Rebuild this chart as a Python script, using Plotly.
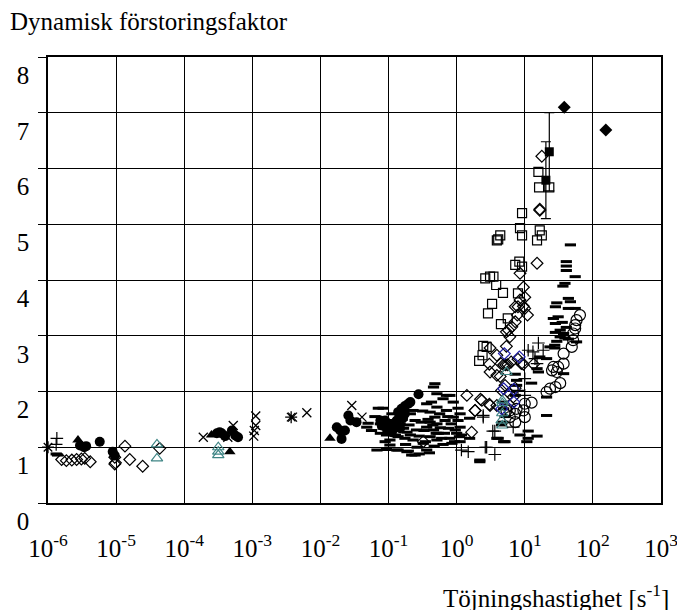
import numpy as np
import plotly.graph_objects as go

# ---- data: log10(strain rate) and dynamic increase factor ----
circ_f_lx = [-5.53, -5.47, -5.44, -5.24, -5.05, -5.02,
             -3.52, -3.48, -3.45, -3.40, -3.30, -3.25, -3.21,
             -1.76, -1.71, -1.64, -1.69, -1.59, -1.56, -1.47,
             -1.12, -1.05, -1.10, -1.00, -0.93, -0.88, -0.86, -0.81, -0.76, -0.71, -0.68, -0.56, -0.76, -0.95, -0.83,
             -1.02, -0.90, -0.79]
circ_f_y = [1.03, 1.00, 1.02, 1.10, 0.92, 0.85,
            1.25, 1.27, 1.25, 1.20, 1.30, 1.21, 1.18,
            1.36, 1.30, 1.30, 1.15, 1.57, 1.48, 1.45,
            1.48, 1.48, 1.39, 1.38, 1.42, 1.48, 1.63, 1.69, 1.74, 1.78, 1.81, 1.95, 1.60, 1.27, 1.34,
            1.30, 1.36, 1.52]

tri_f_lx = [-5.56, -3.60, -3.33, -1.86]
tri_f_y = [1.13, 1.22, 0.92, 1.16]

diam_lx = [-5.80, -5.73, -5.65, -5.58, -5.51, -5.46, -5.38, -4.87, -5.02, -5.01, -5.02, -4.80, -4.61, -4.36,
           -0.49, 0.15, 0.35, 0.27, 0.48, 0.22,
           1.22, 1.18, 0.98, 1.00, 0.93, 0.90, 0.86, 0.98, 1.00, 1.04, 0.93,
           0.89, 0.86, 0.81, 0.76, 0.78, 0.73, 0.73, 0.49, 0.59,
           0.65, 0.69, 0.72, 0.75, 0.80, 0.90, 0.95, 0.98, 1.13, 0.48, 0.49, 0.59, 0.64, 0.71, 0.66, 0.86,
           0.78, 0.83, 0.59, 0.78, 0.37, 0.27, 0.49, 1.25, 1.22]
diam_y = [0.78, 0.76, 0.77, 0.78, 0.79, 0.80, 0.74, 1.02, 0.82, 0.72, 0.70, 0.78, 0.66, 0.98,
          1.10, 1.93, 1.86, 1.66, 1.77, 1.27,
          5.25, 4.30, 3.87, 3.69, 3.64, 3.52, 3.52, 3.53, 3.49, 3.37, 4.12,
          3.37, 3.25, 3.16, 3.10, 2.98, 3.07, 2.81, 2.78, 2.65,
          2.50, 2.48, 2.48, 2.48, 2.53, 2.58, 2.50, 2.49, 2.49, 2.49, 2.35, 2.29, 2.27, 2.11, 2.02, 2.06,
          1.96, 1.90, 1.75, 1.75, 1.84, 1.66, 1.75, 6.22, 5.27]

diam_b_lx = [0.70, 0.92, 0.69, 0.84, 0.84, 0.66]
diam_b_y = [2.68, 2.62, 2.05, 2.04, 1.81, 1.69]

sq_lx = [0.96, 0.64, 0.61, 0.59, 0.93, 0.96, 1.22, 1.25, 1.18, 0.92, 0.86, 0.96,
         0.42, 0.49, 0.54, 0.58, 0.68, 0.90, 0.52, 0.46, 0.75, 0.65, 0.39, 0.44, 0.38, 0.33,
         1.20, 1.21, 1.36]
sq_y = [5.20, 4.80, 4.73, 4.71, 4.93, 4.80, 4.89, 4.80, 4.71, 4.33, 4.27, 4.24,
        4.03, 4.06, 4.06, 3.91, 3.77, 3.76, 3.57, 3.40, 3.31, 3.21, 2.82, 2.80, 2.65, 2.55,
        5.94, 5.66, 5.66]

circ_o_lx = [1.81, 1.76, 1.74, 1.74, 1.71, 1.71, 1.69, 1.57,
             1.57, 1.49, 1.42, 1.40, 1.47, 1.52, 1.45, 1.37, 1.32,
             1.10, 1.00, 0.98, 0.88, 0.86, 0.78, 1.00, 0.86, 0.78, 0.73]
circ_o_y = [3.37, 3.28, 3.19, 3.13, 3.04, 2.92, 2.80, 2.68,
            2.50, 2.44, 2.44, 2.38, 2.35, 2.15, 2.08, 2.05, 1.99,
            1.80, 1.78, 1.66, 1.69, 1.60, 1.66, 1.54, 1.45, 1.54, 1.66]

tri_t_lx = [-4.40, -4.40, -3.50, -3.50, -3.50, 0.73, 0.67, 0.67, 0.67, 0.66, 0.67]
tri_t_y = [1.05, 0.80, 1.00, 0.92, 0.86, 2.35, 1.84, 1.79, 1.61, 1.48, 1.39]

dash_lx = [-5.88, -5.86, -1.32, -1.30,
           -1.15, -1.08, -1.12, -1.03, -1.08, -0.98, -1.12, -1.03, -0.98, -0.90, -1.05, -0.98,
           -1.17, -1.03, -0.88, -0.71, -0.61,
           -0.83, -0.78, -0.73, -0.86, -0.76, -0.68, -0.64, -0.59, -0.61, -0.64, -0.68,
           -0.44, -0.37, -0.29, -0.39, -0.32, -0.39, -0.29, -0.44, -0.34, -0.27, -0.39, -0.29, -0.22, -0.46,
           -0.17, -0.15, -0.20, -0.10, -0.05, -0.12, -0.10, -0.07, -0.02, -0.05, 0.02, 0.05, 0.02, 0.05, 0.04,
           -0.32, -0.34, -0.29, -0.15, -0.44, -0.86, -0.73, -0.66, -0.49, 0.07, 0.05, 0.19, 0.19, 0.34,
           0.59, 0.69,
           -1.25, -1.20, -0.95, -0.92, -0.80, -0.75, -0.70, -0.55, -0.52, -0.50, -0.48, -0.42, -0.35,
           -0.30, -0.25, -0.24, -0.18, -0.13, -0.08, -0.03, 0.00, -0.58, -0.33, -0.20, -0.55, -0.40,
           1.67, 1.61, 1.61, 1.61, 1.74, 1.59, 1.56, 1.64, 1.67, 1.47, 1.45, 1.64, 1.74, 1.42, 1.49,
           1.45, 1.55, 1.61, 1.52, 1.45, 1.57, 1.52, 1.59, 1.64, 1.47, 1.76, 1.37, 1.44, 1.44,
           1.22, 1.32, 1.18, 1.20, 0.86, 0.88, 0.88, 1.10, 0.86, 1.57, 1.32, 1.32,
           0.68, 0.69, 0.71, 0.68, 0.66, 1.05, 0.93, 1.18, 1.05, 1.03, 0.61, 0.71, 0.34]
dash_y = [0.88, 0.86, 1.36, 1.43,
          1.70, 1.70, 1.42, 1.48, 1.34, 1.39, 1.25, 1.22, 1.13, 1.22, 1.10, 1.04,
          0.95, 0.96, 0.95, 0.93, 0.86,
          1.42, 1.34, 1.27, 1.19, 1.16, 1.22, 1.13, 1.31, 1.48, 1.66, 1.60,
          1.78, 1.81, 1.72, 1.63, 1.54, 1.45, 1.42, 1.36, 1.31, 1.25, 1.19, 1.13, 1.16, 1.10,
          1.48, 1.66, 1.87, 1.93, 1.81, 1.34, 1.16, 1.07, 1.31, 1.54, 1.70, 1.60, 1.48, 1.36, 1.19,
          2.14, 2.08, 1.96, 1.93, 0.95, 0.95, 0.92, 0.86, 1.07, 1.22, 1.10, 1.52, 1.16, 0.77,
          1.16, 1.10,
          1.30, 1.55, 1.60, 1.30, 1.50, 1.05, 1.40, 1.20, 1.45, 1.65, 1.30, 1.50, 1.40,
          1.25, 1.60, 1.35, 1.25, 1.55, 1.42, 1.10, 1.25, 1.00, 1.02, 1.05, 0.88, 0.90,
          4.63, 4.33, 4.25, 4.17, 4.06, 3.94, 3.89, 3.67, 3.61, 3.59, 3.52, 3.49, 3.49, 3.31, 3.34,
          3.22, 3.24, 3.15, 3.10, 3.06, 3.04, 2.98, 2.96, 2.94, 2.90, 2.89, 2.80, 2.83, 2.78,
          2.62, 2.59, 2.41, 2.35, 2.31, 2.20, 2.11, 2.15, 1.93, 2.32, 1.90, 1.57,
          1.81, 1.69, 1.55, 1.45, 1.40, 1.29, 1.22, 1.20, 1.16, 1.10, 1.16, 1.10, 0.74]

plus_lx = [-5.88, -5.87, 0.39, 0.42, 0.07, 0.17, 0.44, 0.56, 0.56,
           1.20, 1.05, 1.12, 1.27, 1.15, 1.18, 1.00, 0.90, 1.00, 0.39, 0.83, 0.53]
plus_y = [1.05, 1.16, 1.57, 1.00, 0.95, 0.92, 1.00, 0.87, 1.29,
          2.87, 2.74, 2.71, 2.74, 2.59, 2.50, 2.23, 2.02, 1.93, 1.54, 1.36, 1.29]

x_lx = [-3.72, -3.28, -2.95, -2.95, -2.97, -2.98, -2.41, -2.20, -1.54, -1.39, -3.36]
x_y = [1.18, 1.39, 1.56, 1.39, 1.30, 1.20, 1.54, 1.62, 1.75, 1.54, 1.18]

ast_lx = [-6.0, -2.43]
ast_y = [1.00, 1.54]

sqf_lx = [1.36, 1.31]
sqf_y = [6.30, 5.79]
sqf_err_up = [0.70, 0.69]
sqf_err_dn = [0.70, 0.69]

diam_f_lx = [1.58, 2.19]
diam_f_y = [7.10, 6.69]

tick_exp = [-6, -5, -4, -3, -2, -1, 0, 1, 2, 3]
y_ticks = [0, 1, 2, 3, 4, 5, 6, 7, 8]

FONT = "Liberation Serif"
FS = 25
PW, PH = 613, 446  # plot area size in px


def X(lx):
    return np.power(10.0, np.array(lx))


fig = go.Figure()


def add(lx, y, symbol, size, color="black", lw=1.2, fill=None, **kw):
    fig.add_trace(go.Scatter(
        x=X(lx), y=y, mode="markers",
        marker=dict(symbol=symbol, size=size, color=fill or color,
                    line=dict(color=color, width=lw)),
        showlegend=False, hoverinfo="skip", cliponaxis=False, **kw))


add(dash_lx, dash_y, "line-ew", 8, lw=3)
add(sq_lx, sq_y, "square-open", 9)
add(circ_o_lx, circ_o_y, "circle-open", 11)
add(diam_lx, diam_y, "diamond-open", 9)
add(diam_b_lx, diam_b_y, "diamond-open", 9, color="#2020a8")
add(tri_t_lx, tri_t_y, "triangle-up-open", 10, color="#3f8585")
add(plus_lx, plus_y, "cross-thin", 9, lw=1.2)
add(x_lx, x_y, "x-thin", 9, lw=1.3)
add(ast_lx, ast_y, "asterisk", 10, lw=1.3)
add(circ_f_lx, circ_f_y, "circle", 10, lw=0)
add(tri_f_lx, tri_f_y, "triangle-up", 10, lw=0)
add(diam_f_lx, diam_f_y, "diamond", 10, lw=0)
add(sqf_lx, sqf_y, "square", 9, lw=0,
    error_y=dict(type="data", symmetric=False, array=sqf_err_up, arrayminus=sqf_err_dn,
                 color="black", thickness=1.2, width=5))

fig.update_layout(
    width=677, height=602,
    margin=dict(l=40, r=24, t=49, b=107, autoexpand=False),
    paper_bgcolor="white", plot_bgcolor="white",
    font=dict(family=FONT, size=FS, color="black"),
    xaxis=dict(
        type="log", range=[-6, 3], automargin=False,
        tickvals=[10.0 ** e for e in tick_exp],
        ticktext=["10<sup>%d</sup>" % e for e in tick_exp],
        showgrid=True, gridcolor="black", gridwidth=1,
        showline=True, linecolor="black", linewidth=1.5, mirror=True,
        ticks="", ticklabelstandoff=22, zeroline=False,
    ),
    yaxis=dict(
        range=[0, 8], tickvals=y_ticks, automargin=False,
        showgrid=True, gridcolor="black", gridwidth=1,
        showline=True, linecolor="black", linewidth=1.5, mirror=True,
        ticks="outside", ticklen=8, tickcolor="black", tickwidth=1,
        ticklabelposition="outside bottom", ticklabelstandoff=12, zeroline=False,
    ),
    annotations=[
        dict(text="Dynamisk förstoringsfaktor", xref="paper", yref="paper",
             x=-40 / PW, y=1 + 35 / PH, xanchor="left", yanchor="middle",
             showarrow=False, font=dict(family=FONT, size=FS)),
        dict(text="Töjningshastighet [s<sup>-1</sup>]", xref="paper", yref="paper",
             x=1 + 10 / PW, y=-93 / PH, xanchor="right", yanchor="middle",
             showarrow=False, font=dict(family=FONT, size=FS)),
    ],
)

fig.write_html("out.html")
